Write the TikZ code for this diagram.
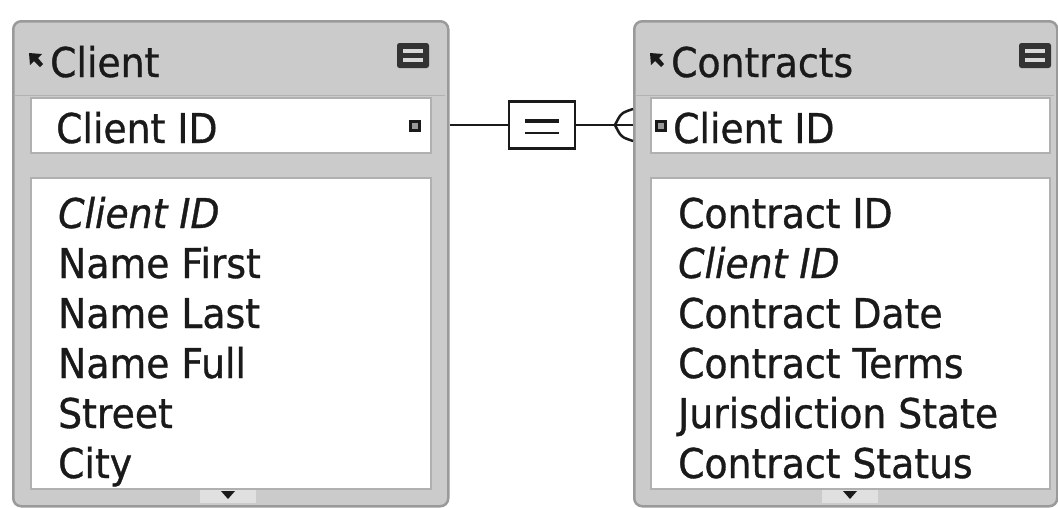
\documentclass[tikz,border=0pt]{standalone}
\usepackage{fontspec}
\setmainfont{DejaVu Sans}[FakeStretch=0.92, FakeBold=0.8]
\usetikzlibrary{calc}
\definecolor{panel}{HTML}{CBCBCB}
\definecolor{edge}{HTML}{9A9A9A}
\definecolor{inner}{HTML}{B0B0B0}
\definecolor{ink}{HTML}{1A1A1A}
\tikzset{
  frame/.style={draw=edge, line width=2.5pt, fill=panel, rounded corners=8pt, inner sep=0pt, anchor=north west},
  whitebox/.style={draw=inner, line width=1.5pt, fill=white, inner sep=0pt, anchor=north west},
  txt/.style={anchor=base west, inner sep=0pt, text=ink, font=\fontsize{41}{48}\selectfont},
  itxt/.style={txt, font=\fontsize{41}{48}\selectfont\itshape},
  conn/.style={draw=ink, line width=2.5pt},
  relbox/.style={draw=ink, line width=2.5pt, fill=white, minimum width=66pt, minimum height=47pt, inner sep=0pt},
  keymark/.style={draw=ink, line width=2.5pt, fill=black!40, minimum size=9pt, inner sep=0pt},
  scrollseg/.style={fill=black!12, inner sep=0pt, minimum width=56pt, minimum height=13pt},
}
\newcommand{\titleicon}[2]{%
  \fill[black!80, rounded corners=2.5pt] (#1,#2) rectangle ++(32,25);
  \fill[black!15] ($(#1,#2)+(6,6)$) rectangle ++(20,4);
  \fill[black!15] ($(#1,#2)+(6,15)$) rectangle ++(20,4);
}
\newcommand{\titlearrow}[2]{%
  \fill[ink] (#1,#2) -- ++(13,1) -- ++(-4,4) -- ++(5,6) -- ++(-3,3) -- ++(-6,-6) -- ++(-4,4) -- cycle;
}
\begin{document}
\begin{tikzpicture}[x=1pt,y=-1pt]
\useasboundingbox[fill=white] (0,0) rectangle (1058,507);

% ---------- Left table: Client ----------
\node[frame, minimum width=435pt, minimum height=485pt] (ltable) at (12,20) {};
\node[whitebox, minimum width=400pt, minimum height=55pt] (lkey) at (30,97) {};
\node[whitebox, minimum width=400pt, minimum height=311pt] (lfields) at (30,177) {};
\draw[black!30, line width=1pt] (14,95) -- (445,95);
\titlearrow{29}{53}
\node[txt] (ltitle) at (50,77) {Client};
\titleicon{397}{43}
\node[txt] (lkeytxt) at (56,143) {Client ID};
\node[keymark] (lmark) at (415,126) {};
\node[itxt] (lf1) at (58,228) {Client ID};
\node[txt] (lf2) at (58,278) {Name First};
\node[txt] (lf3) at (58,328) {Name Last};
\node[txt] (lf4) at (58,378) {Name Full};
\node[txt] (lf5) at (58,428) {Street};
\node[txt] (lf6) at (58,478) {City};
\node[scrollseg] (lscroll) at (228,496) {};
\fill[ink] (221,491) -- (235,491) -- (228,499) -- cycle;

% ---------- Right table: Contracts ----------
\node[frame, minimum width=423pt, minimum height=485pt] (rtable) at (633,20) {};
\node[whitebox, minimum width=399pt, minimum height=55pt] (rkey) at (650,97) {};
\node[whitebox, minimum width=399pt, minimum height=311pt] (rfields) at (650,177) {};
\draw[black!30, line width=1pt] (635,95) -- (1054,95);
\titlearrow{650}{53}
\node[txt] (rtitle) at (671,77) {Contracts};
\titleicon{1019}{43}
\node[keymark] (rmark) at (661,126) {};
\node[txt] (rkeytxt) at (673,143) {Client ID};
\node[txt] (rf1) at (678,228) {Contract ID};
\node[itxt] (rf2) at (678,278) {Client ID};
\node[txt] (rf3) at (678,328) {Contract Date};
\node[txt] (rf4) at (678,378) {Contract Terms};
\node[txt] (rf5) at (678,428) {Jurisdiction State};
\node[txt] (rf6) at (678,478) {Contract Status};
\node[scrollseg] (rscroll) at (850,496) {};
\fill[ink] (843,491) -- (857,491) -- (850,499) -- cycle;

% ---------- Relationship ----------
\node[relbox] (rel) at (542,125) {};
\draw[ink, line width=3.5pt] ($(rel.center)+(-17,-4)$) -- ++(34,0);
\draw[ink, line width=2.5pt] ($(rel.center)+(-17,8)$) -- ++(34,0);
\coordinate (cf) at (615,125);
\draw[conn] (rel.west) -- (rel.west -| ltable.east);
\draw[conn] (rel.east) -- (cf);
\draw[conn] (cf) -- (cf -| rtable.west);
\draw[conn] (cf) .. controls (621,113) .. ($(cf -| rtable.west)+(0,-16)$);
\draw[conn] (cf) .. controls (621,137) .. ($(cf -| rtable.west)+(0,16)$);
\end{tikzpicture}
\end{document}
